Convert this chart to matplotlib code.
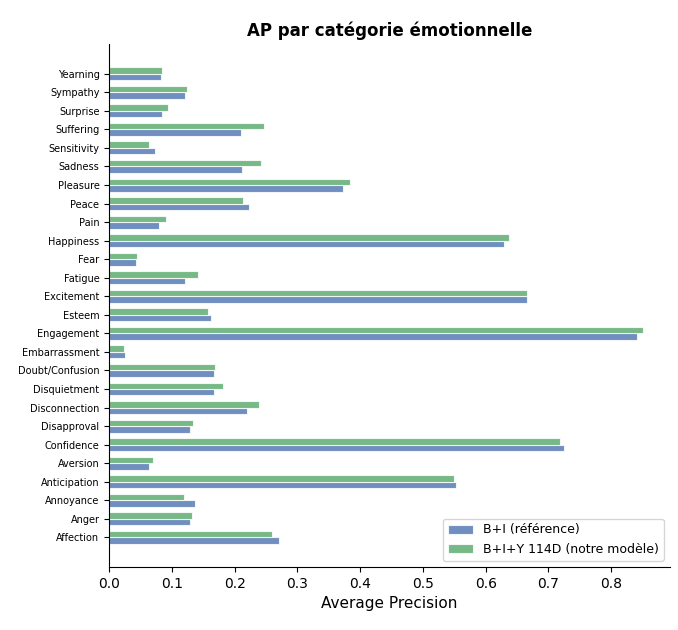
import matplotlib
matplotlib.use("Agg")
import matplotlib.pyplot as plt
import numpy as np

# AP per emotion category, bottom -> top
categories = [
    "Affection", "Anger", "Annoyance", "Anticipation", "Aversion",
    "Confidence", "Disapproval", "Disconnection", "Disquietment",
    "Doubt/Confusion", "Embarrassment", "Engagement", "Esteem",
    "Excitement", "Fatigue", "Fear", "Happiness", "Pain", "Peace",
    "Pleasure", "Sadness", "Sensitivity", "Suffering", "Surprise",
    "Sympathy", "Yearning",
]
ap_ref = [
    0.271, 0.129, 0.137, 0.553, 0.064,
    0.725, 0.129, 0.220, 0.167,
    0.167, 0.026, 0.841, 0.163,
    0.666, 0.121, 0.043, 0.629, 0.080, 0.223,
    0.373, 0.212, 0.073, 0.210, 0.084,
    0.121, 0.083,
]
ap_ours = [
    0.260, 0.132, 0.120, 0.550, 0.070,
    0.719, 0.134, 0.239, 0.182,
    0.169, 0.024, 0.851, 0.158,
    0.666, 0.142, 0.045, 0.637, 0.091, 0.214,
    0.384, 0.242, 0.064, 0.247, 0.094,
    0.124, 0.085,
]
label_ref = "B+I (référence)"
label_ours = "B+I+Y 114D (notre modèle)"

fig = plt.figure(figsize=(6.78, 6.30), dpi=100)
ax = fig.add_axes([0.161, 0.10, 0.827, 0.83])

y = np.arange(len(categories))
h = 0.35
ax.barh(y - h / 2, ap_ref, height=h, color="#4C72B0", alpha=0.8,
        edgecolor="white", linewidth=0.8, label=label_ref)
ax.barh(y + h / 2, ap_ours, height=h, color="#55A868", alpha=0.8,
        edgecolor="white", linewidth=0.8, label=label_ours)

ax.set_yticks(y)
ax.set_yticklabels(categories, fontsize=7)
ax.set_ylim(-1.6, 26.6)
ax.tick_params(axis="x", labelsize=10)
ax.set_xlabel("Average Precision", fontsize=11)
ax.set_title("AP par catégorie émotionnelle", fontsize=12, fontweight="bold")
ax.spines["top"].set_visible(False)
ax.spines["right"].set_visible(False)
ax.legend(loc="lower right", fontsize=9)

fig.savefig("out.png", dpi=100)
